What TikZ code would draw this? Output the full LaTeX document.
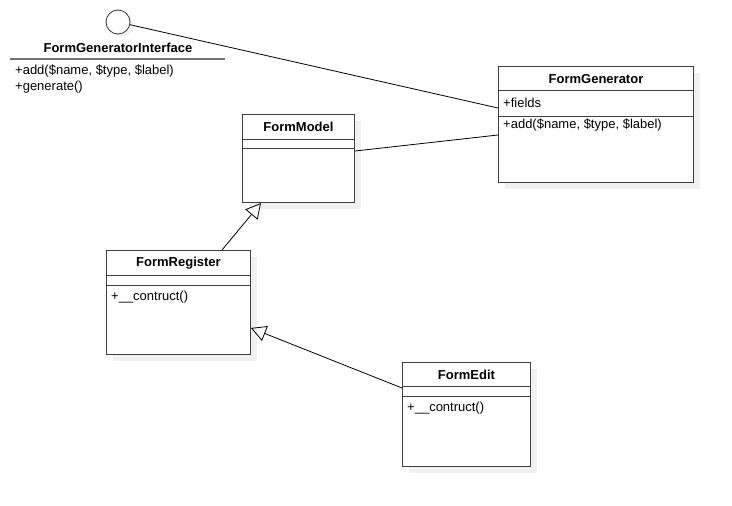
\documentclass[tikz,border=0pt]{standalone}
\usepackage{fontspec}
\setmainfont{Liberation Sans}
\usetikzlibrary{arrows.meta,positioning,calc,shadows}

\begin{document}
\begin{tikzpicture}[
  x=1pt, y=-1pt,
  font=\fontsize{13}{15}\selectfont,
  line/.style={draw=black, line width=0.8pt},
  inherit/.style={line, -{Triangle[open, length=15pt, width=16pt]}},
  classbox/.style={
    draw=black!75, line width=1pt, anchor=north west, fill=white, inner sep=0pt,
    drop shadow={shadow xshift=6pt, shadow yshift=-6pt, fill=black!6, opacity=1}
  },
  title/.style={font=\bfseries\fontsize{13}{15}\selectfont, inner sep=0pt},
  member/.style={anchor=west, inner sep=0pt},
  sep/.style={draw=black!75, line width=1pt}
]
\useasboundingbox (0,0) rectangle (732,506);

% Interface (lollipop)
\node[circle, draw=black!80, fill=white, line width=0.8pt, minimum size=24pt, inner sep=0pt,
  drop shadow={shadow xshift=3pt, shadow yshift=-3pt, fill=black!6, opacity=1}] (ifc) at (118,22) {};
\node[title] (ifname) at (118,48) {FormGeneratorInterface};
\draw[draw=black!55, line width=2pt] (10,59) coordinate (ifsepL) -- (225,59) coordinate (ifsepR);
\node[member] (ifadd) at (15,71) {+add(\$name, \$type, \$label)};
\node[member] (ifgen) at (15,87) {+generate()};

% Class boxes
\node[classbox, minimum width=195pt, minimum height=116pt] (fg) at (498,66) {};
\node[classbox, minimum width=112pt, minimum height=88pt] (fm) at (242,114) {};
\node[classbox, minimum width=144pt, minimum height=104pt] (fr) at (106,250) {};
\node[classbox, minimum width=128pt, minimum height=104pt] (fe) at (402,362) {};

% FormGenerator
\node[title] at ($(fg.north)+(0,13)$) {FormGenerator};
\draw[sep] ($(fg.north west)+(0,24)$) -- ($(fg.north east)+(0,24)$);
\draw[sep] ($(fg.north west)+(0,50)$) -- ($(fg.north east)+(0,50)$);
\node[member] at ($(fg.north west)+(5,37)$) {+fields};
\node[member] at ($(fg.north west)+(5,59)$) {+add(\$name, \$type, \$label)};

% FormModel
\node[title] at ($(fm.north)+(0,13)$) {FormModel};
\draw[sep] ($(fm.north west)+(0,25)$) -- ($(fm.north east)+(0,25)$);
\draw[sep] ($(fm.north west)+(0,34)$) -- ($(fm.north east)+(0,34)$);

% FormRegister
\node[title] at ($(fr.north)+(0,13)$) {FormRegister};
\draw[sep] ($(fr.north west)+(0,25)$) -- ($(fr.north east)+(0,25)$);
\draw[sep] ($(fr.north west)+(0,35)$) -- ($(fr.north east)+(0,35)$);
\node[member] at ($(fr.north west)+(5,47)$) {+\_\_contruct()};

% FormEdit
\node[title] at ($(fe.north)+(0,13)$) {FormEdit};
\draw[sep] ($(fe.north west)+(0,24)$) -- ($(fe.north east)+(0,24)$);
\draw[sep] ($(fe.north west)+(0,34)$) -- ($(fe.north east)+(0,34)$);
\node[member] at ($(fe.north west)+(5,46)$) {+\_\_contruct()};

% Connector ends
\coordinate (fgA) at ($(fg.north west)+(0,42)$);
\coordinate (fgB) at ($(fg.north west)+(0,69)$);
\coordinate (fmR) at ($(fm.north east)+(0,37)$);
\coordinate (fmB) at ($(fm.south west)+(19,0)$);
\coordinate (frT) at ($(fr.north west)+(116,0)$);
\coordinate (frR) at ($(fr.north east)+(0,78)$);
\coordinate (feL) at ($(fe.north west)+(0,26)$);

% Connectors
\draw[line] (ifc) -- (fgA);
\draw[line] (fmR) -- (fgB);
\draw[inherit] (frT) -- (fmB);
\draw[inherit] (feL) -- (frR);

\end{tikzpicture}
\end{document}
